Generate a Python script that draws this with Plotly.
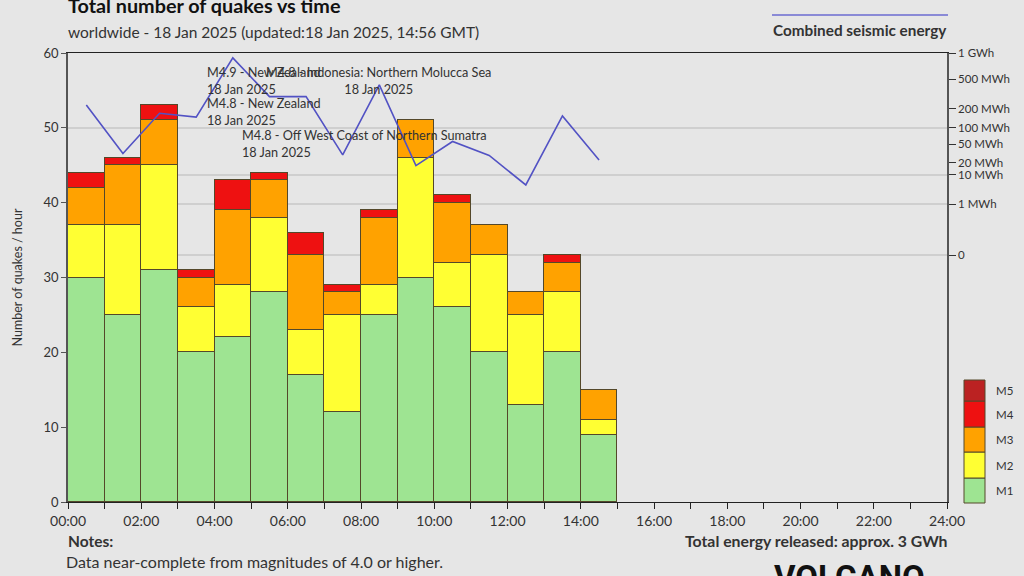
import plotly.graph_objects as go

# hourly counts per magnitude class, 00:00 - 15:00
hours = list(range(15))
m1 = [30, 25, 31, 20, 22, 28, 17, 12, 25, 30, 26, 20, 13, 20, 9]
m2 = [7, 12, 14, 6, 7, 10, 6, 13, 4, 16, 6, 13, 12, 8, 2]
m3 = [5, 8, 6, 4, 10, 5, 10, 3, 9, 5, 8, 4, 3, 4, 4]
m4 = [2, 1, 2, 1, 4, 1, 3, 1, 1, 0, 1, 0, 0, 1, 0]
m5 = [0] * 15

# combined seismic energy per hour (MWh)
energy_mwh = [226, 32, 170, 148, 886, 296, 296, 30, 423, 17, 56, 29, 5, 155, 23]

energy_ticks = [1000, 500, 200, 100, 50, 20, 10, 1, 0]
energy_labels = ["1 GWh", "500 MWh", "200 MWh", "100 MWh", "50 MWh",
                 "20 MWh", "10 MWh", "1 MWh", "0"]
energy_grid = [100, 10, 1, 0]

hour_ticks = list(range(25))
hour_labels = [f"{h:02d}:00" if h % 2 == 0 else "" for h in hour_ticks]

mag_names = ["M1", "M2", "M3", "M4", "M5"]
mag_colors = ["#9ee492", "#ffff33", "#ffa200", "#ee1111", "#bb2222"]

FONT = "Lato"
TXT = "#333333"
BG = "#e6e6e6"

# plot area in pixels
L, R, T, B = 68, 947, 53, 502


def px(x):
    return (x - L) / (R - L)


def py(y):
    return (B - y) / (B - T)


def p5(v):
    # right axis uses a fifth-root energy scale
    return v ** 0.2


fig = go.Figure()

centers = [h + 0.5 for h in hours]
for name, vals, col in zip(mag_names, [m1, m2, m3, m4, m5], mag_colors):
    fig.add_trace(go.Bar(
        x=centers, y=vals, width=1, name=name,
        marker=dict(color=col, line=dict(color="#54482a", width=1.3)),
        showlegend=False,
    ))

fig.add_trace(go.Scatter(
    x=centers, y=[p5(e) for e in energy_mwh], yaxis="y2", mode="lines",
    line=dict(color="#5252c4", width=1.6), showlegend=False,
))

top2 = p5(1000)
zero_frac = (B - 255) / (B - T)
bottom2 = top2 - top2 / (1 - zero_frac)

fig.update_layout(
    width=1024, height=576,
    margin=dict(l=L, r=1024 - R, t=T, b=576 - B),
    paper_bgcolor=BG, plot_bgcolor=BG,
    barmode="stack", bargap=0,
    font=dict(family=FONT, color=TXT, size=12),
    xaxis=dict(
        range=[0, 24], tickvals=hour_ticks, ticktext=hour_labels,
        ticks="outside", ticklen=6, tickcolor="#222", showgrid=False,
        showline=True, linecolor="#222", linewidth=1, mirror=True,
        tickfont=dict(size=14, color=TXT), zeroline=False, automargin=False,
    ),
    yaxis=dict(
        range=[0, 60], dtick=10, ticks="outside", ticklen=5, tickcolor="#555",
        showgrid=False, showline=True, linecolor="#555", linewidth=1.5,
        zeroline=False, tickfont=dict(size=13, color=TXT), automargin=False,
        title=dict(text="Number of quakes / hour", font=dict(size=12.5, color=TXT),
                   standoff=18),
    ),
    yaxis2=dict(
        overlaying="y", side="right", range=[bottom2, top2],
        tickvals=[p5(v) for v in energy_ticks], ticktext=energy_labels,
        ticks="outside", ticklen=7, tickcolor="#333", showgrid=False,
        showline=True, linecolor="#555", linewidth=1.5, zeroline=False,
        tickfont=dict(size=11.5, color=TXT), automargin=False,
        minor=dict(tickvals=[p5(v) for v in energy_grid], showgrid=True,
                   gridcolor="#cfcfcf", gridwidth=1.5, ticks=""),
    ),
)

ann = []
# titles
ann.append(dict(text="<b>Total number of quakes vs time</b>", x=px(66), y=py(5),
                xanchor="left", yanchor="middle", font=dict(size=19.8, color="#111")))
ann.append(dict(text="worldwide - 18 Jan 2025 (updated:18 Jan 2025, 14:56 GMT)",
                x=px(66), y=py(32), xanchor="left", yanchor="middle",
                font=dict(size=15.5, color=TXT)))
# energy legend
fig.add_shape(type="line", xref="paper", yref="paper", x0=px(772), x1=px(948),
              y0=py(15), y1=py(15), line=dict(color="#8a8ad6", width=2))
ann.append(dict(text="<b>Combined seismic energy</b>", x=px(860), y=py(30),
                xanchor="center", yanchor="middle", font=dict(size=15.3, color=TXT)))

# event labels
events = [
    ("M4.9 - New Zealand<br>18 Jan 2025", 205, 80.5, "left"),
    ("M4.8 - Indonesia: Northern Molucca Sea<br>18 Jan 2025", 378, 80.5, "center"),
    ("M4.8 - New Zealand<br>18 Jan 2025", 205, 111.5, "left"),
    ("M4.8 - Off West Coast of Northern Sumatra<br>18 Jan 2025", 240, 143, "left"),
]
for txt, x, y, al in events:
    ann.append(dict(text=txt, x=px(x), y=py(y), xanchor=al, yanchor="middle",
                    align=al, font=dict(size=12.7, color=TXT)))

# magnitude legend boxes
edges = [503, 478, 452, 427, 401, 380]
for i, (name, col) in enumerate(zip(mag_names, mag_colors)):
    fig.add_shape(type="rect", xref="paper", yref="paper",
                  x0=px(964), x1=px(985), y0=py(edges[i]), y1=py(edges[i + 1]),
                  fillcolor=col, line=dict(color="#54482a", width=1))
    ann.append(dict(text=name, x=px(994), y=py((edges[i] + edges[i + 1]) / 2),
                    xanchor="left", yanchor="middle", font=dict(size=11.5, color=TXT)))

# notes
ann.append(dict(text="<b>Notes:</b>", x=px(66), y=py(541), xanchor="left",
                yanchor="middle", font=dict(size=15.5, color=TXT)))
ann.append(dict(text="Data near-complete from magnitudes of 4.0 or higher.",
                x=px(64), y=py(561), xanchor="left", yanchor="middle",
                font=dict(size=16, color=TXT)))
ann.append(dict(text="<b>Total energy released: approx. 3 GWh</b>", x=px(950),
                y=py(540), xanchor="right", yanchor="middle",
                font=dict(size=15.8, color=TXT)))
ann.append(dict(text="<b>VOLCANO</b>", x=px(772), y=py(556), xanchor="left",
                yanchor="top", font=dict(size=33, color="#111", family="Roboto")))

for a in ann:
    a.update(xref="paper", yref="paper", showarrow=False)
fig.update_layout(annotations=ann)

fig.write_html(
    "out.html",
    config={"displayModeBar": False},
    post_script="document.body.style.margin='0';"
                "document.body.style.background='#e6e6e6';",
)
